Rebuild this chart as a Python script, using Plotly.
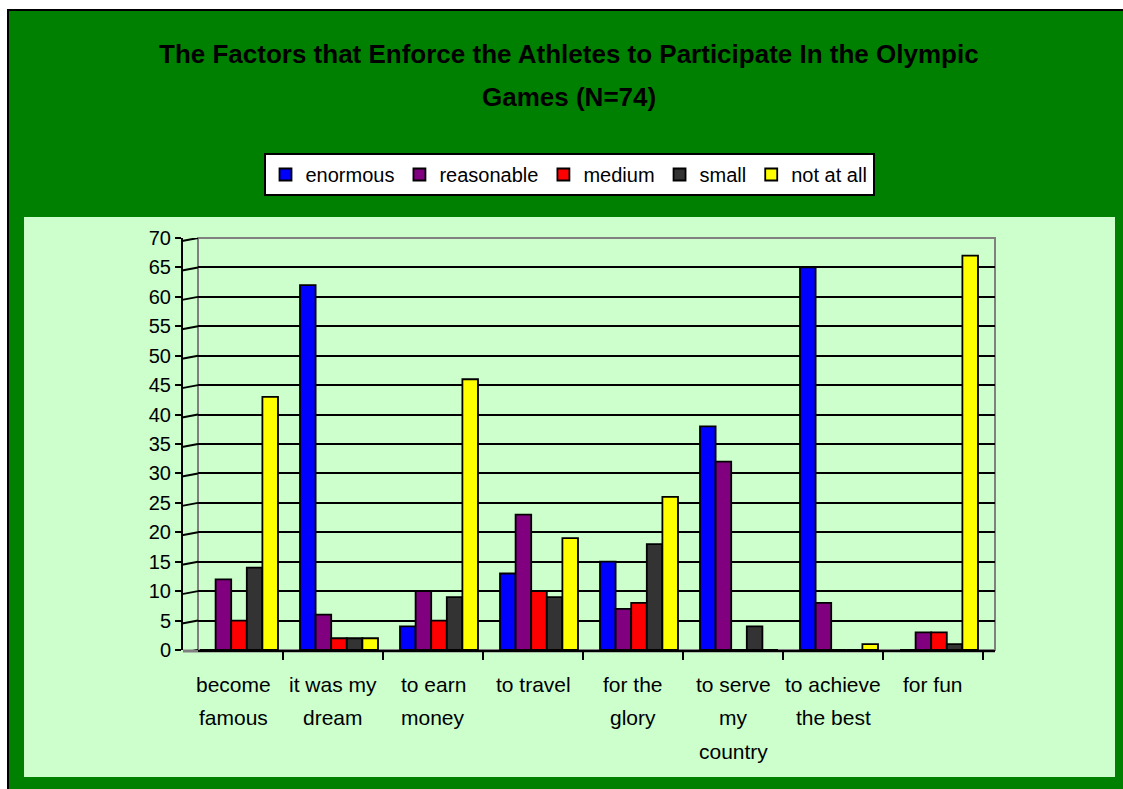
import plotly.graph_objects as go

# --- data -------------------------------------------------------------
categories = ["become famous", "it was my dream", "to earn money", "to travel",
              "for the glory", "to serve my country", "to achieve the best", "for fun"]
category_labels = ["become<br>famous", "it was my<br>dream", "to earn<br>money", "to travel",
                   "for the<br>glory", "to serve<br>my<br>country", "to achieve<br>the best", "for fun"]

enormous   = [0, 62, 4, 13, 15, 38, 65, 0]
reasonable = [12, 6, 10, 23, 7, 32, 8, 3]
medium     = [5, 2, 5, 10, 8, 0, 0, 3]
small      = [14, 2, 9, 9, 18, 4, 0, 1]
not_at_all = [43, 2, 46, 19, 26, 0, 1, 67]

series_names = ["enormous", "reasonable", "medium", "small", "not at all"]
series_values = [enormous, reasonable, medium, small, not_at_all]
series_colors = ["#0000FF", "#800080", "#FF0000", "#333333", "#FFFF00"]

y_ticks = list(range(0, 71, 5))

# --- layout geometry (pixels) ----------------------------------------
W, H = 1123, 789
L, R, T, B = 198, 995, 238, 650          # back wall of the plot area
PW, PH = R - L, B - T


def px2x(px):
    return (px - L) / PW


def py2y(py):
    return (B - py) / PH


FONT = "Liberation Sans, Arial"

fig = go.Figure()
for name, vals, col in zip(series_names, series_values, series_colors):
    fig.add_trace(go.Bar(
        x=categories, y=vals, name=name,
        marker=dict(color=col, line=dict(color="black", width=1.8)),
        xaxis="x", yaxis="y",
    ))

# invisible helper trace that carries the category ticks on the front axis
fig.add_trace(go.Scatter(x=categories, y=[None] * len(categories), xaxis="x2", yaxis="y",
                         showlegend=False, hoverinfo="skip"))
# invisible helper trace for the front value axis
fig.add_trace(go.Scatter(x=[categories[0]], y=[None], xaxis="x", yaxis="y2",
                         showlegend=False, hoverinfo="skip"))

shapes = [
    # outer frame of the chart area
    dict(type="rect", xref="paper", yref="paper",
         x0=px2x(8), x1=px2x(W + 20), y0=py2y(H + 20), y1=py2y(10),
         fillcolor="#008000", line=dict(color="black", width=2), layer="below"),
    # light inner panel
    dict(type="rect", xref="paper", yref="paper",
         x0=px2x(24), x1=px2x(1115), y0=py2y(777), y1=py2y(217),
         fillcolor="#CCFFCC", line=dict(width=0), layer="below"),
    # back wall outline
    dict(type="rect", xref="paper", yref="paper", x0=0, x1=1, y0=0, y1=1,
         line=dict(color="#808080", width=2), layer="below"),
    # floor
    dict(type="line", xref="paper", yref="paper", x0=px2x(183), x1=1, y0=py2y(651), y1=py2y(651),
         line=dict(color="#808080", width=3), layer="below"),
]
# short slanted connectors from the front axis to the back wall gridlines
for v in y_ticks:
    shapes.append(dict(type="line", xref="paper", yref="y",
                       xsizemode="pixel", xanchor=0, x0=-16, x1=0,
                       ysizemode="pixel", yanchor=v, y0=-3, y1=0,
                       line=dict(color="black", width=2)))

annotations = [
    dict(text="<b>The Factors that Enforce the Athletes to Participate In the Olympic</b>",
         xref="paper", yref="paper", x=px2x(569), y=py2y(54), xanchor="center", yanchor="middle",
         showarrow=False, font=dict(family=FONT, size=26, color="black")),
    dict(text="<b>Games (N=74)</b>",
         xref="paper", yref="paper", x=px2x(569), y=py2y(97), xanchor="center", yanchor="middle",
         showarrow=False, font=dict(family=FONT, size=26, color="black")),
]
# category labels, one line at a time for the wider line spacing
for cat, lab in zip(categories, category_labels):
    for i, line in enumerate(lab.split("<br>")):
        annotations.append(dict(text=line, xref="x2", yref="paper", x=cat, y=py2y(684 + 33.5 * i),
                                xanchor="center", yanchor="middle", showarrow=False,
                                font=dict(family=FONT, size=21, color="black")))

fig.update_layout(
    width=W, height=H,
    margin=dict(l=L, r=W - R, t=T, b=H - B, pad=0),
    paper_bgcolor="white",
    plot_bgcolor="rgba(0,0,0,0)",
    barmode="group", bargap=0.22, bargroupgap=0,
    font=dict(family=FONT, size=20, color="black"),
    showlegend=True,
    legend=dict(orientation="h", x=px2x(569), xanchor="center", y=py2y(153), yanchor="top",
                bgcolor="white", bordercolor="black", borderwidth=2,
                font=dict(family=FONT, size=20, color="black"),
                itemwidth=30, tracegroupgap=0),
    xaxis=dict(domain=[0, 1], range=[-0.41, 7.56], showticklabels=False, ticks="",
               showgrid=False, zeroline=False, showline=False, type="category",
               categoryorder="array", categoryarray=categories),
    xaxis2=dict(overlaying="x", anchor="y", side="bottom", range=[-0.35, 7.62],
                type="category", categoryorder="array", categoryarray=categories,
                tickmode="array", tickvals=categories, showticklabels=False,
                tickson="boundaries", ticks="outside", ticklen=8, tickwidth=2,
                tickcolor="black", showgrid=False, zeroline=False,
                showline=True, linecolor="black", linewidth=2),
    yaxis=dict(range=[0, 70], tickvals=y_ticks, showticklabels=False, ticks="",
               showgrid=True, gridcolor="black", gridwidth=2, zeroline=False, showline=False),
    yaxis2=dict(overlaying="y", anchor="free", position=0, shift=-16, range=[0, 70],
                tickvals=y_ticks, ticks="outside", ticklen=6, tickwidth=2, tickcolor="black",
                showline=True, linecolor="black", linewidth=2, showgrid=False, zeroline=False,
                tickfont=dict(family=FONT, size=20, color="black")),
    shapes=shapes,
    annotations=annotations,
)

fig.write_html("out.html")
